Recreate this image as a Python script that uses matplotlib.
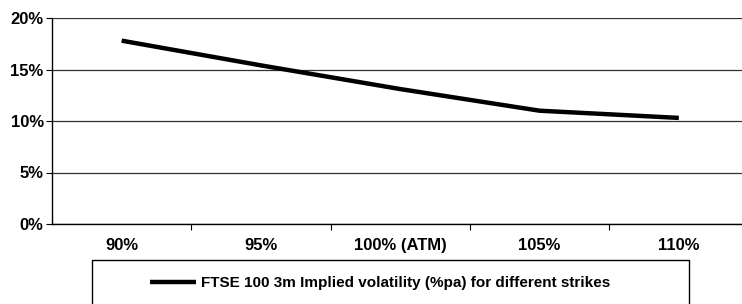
import matplotlib.pyplot as plt
from matplotlib.patches import Rectangle

strikes = ['90%', '95%', '100% (ATM)', '105%', '110%']
implied_vol = [17.8, 15.4, 13.1, 11.0, 10.3]
series_name = 'FTSE 100 3m Implied volatility (%pa) for different strikes'
y_ticks = [0, 5, 10, 15, 20]

plt.rcParams['font.family'] = ['Liberation Sans', 'DejaVu Sans']
plt.rcParams['font.weight'] = 'bold'

W, H = 742, 304
fig = plt.figure(figsize=(W / 100, H / 100), dpi=100)
# axes runs off the right edge, as in the cropped original
left, right, top, bottom = 52, 52 + 5 * 139.3, 18, 224
ax = fig.add_axes([left / W, 1 - bottom / H, (right - left) / W, (bottom - top) / H])

x = list(range(len(strikes)))
line, = ax.plot(x, implied_vol, color='black', lw=3.2, solid_capstyle='butt',
                label=series_name)
ax.set_xlim(-0.5, len(strikes) - 0.5)
ax.set_ylim(0, 20)
ax.set_yticks(y_ticks)
ax.set_yticklabels([f'{v}%' for v in y_ticks])
ax.set_xticks(x)
ax.set_xticklabels(strikes)
ax.set_xticks([i + 0.5 for i in x[:-1]], minor=True)
ax.tick_params(axis='x', which='major', length=0, pad=10, labelsize=12)
ax.tick_params(axis='x', which='minor', length=4, width=0.8, direction='out')
ax.tick_params(axis='y', length=4, width=0.8, labelsize=12, pad=2)
for lab in ax.get_xticklabels() + ax.get_yticklabels():
    lab.set_fontweight('bold')
ax.grid(axis='y', color='#333333', lw=0.9)
ax.set_axisbelow(True)
for s in ['top', 'right']:
    ax.spines[s].set_visible(False)
for s in ['left', 'bottom']:
    ax.spines[s].set_linewidth(1.0)

# legend box, cut off by the bottom edge
fig.add_artist(Rectangle((92 / W, -0.05), (689 - 92) / W, 0.05 + (304 - 260) / H,
                         transform=fig.transFigure, fill=False,
                         edgecolor='black', lw=1.0))
fig.legend(handles=[line], loc='center', bbox_to_anchor=(380 / W, 21 / H),
           frameon=False, handlelength=3.0, handletextpad=0.3,
           prop={'weight': 'bold', 'size': 11})

fig.savefig('out.png', dpi=100)
